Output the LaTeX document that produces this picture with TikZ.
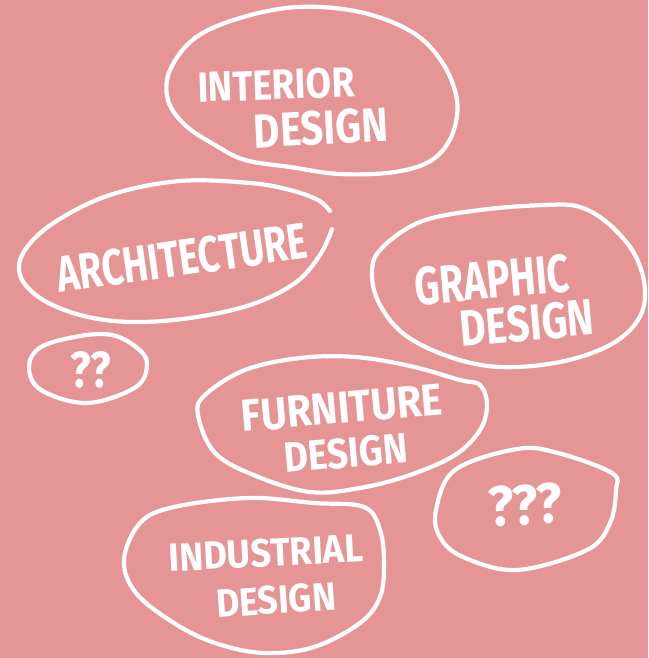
\documentclass[tikz,border=0pt]{standalone}
\usepackage{fontspec}
\usepackage{graphicx}
\setmainfont{Fira Sans}
\definecolor{bgpink}{RGB}{229,149,150}
% word squeezed into a box of given width and height (pt)
\newcommand\fitword[3]{\resizebox{#1pt}{#2pt}{#3}}
\tikzset{
  blob/.style={draw=white, line width=4.2pt, line cap=round, line join=round},
  lbl/.style={text=white, inner sep=0pt, anchor=center, font=\bfseries}
}
\begin{document}
\begin{tikzpicture}[x=1pt, y=-1pt]
  \fill[bgpink] (0,0) rectangle (648,658);
  \useasboundingbox (0,0) rectangle (648,658);

  % interior design
  \draw[blob] plot[smooth cycle, tension=0.6] coordinates {
    (195,38) (240,18) (298,7) (360,12) (412,32) (442,62) (457,100)
    (452,135) (432,160) (395,172) (340,174) (290,167) (245,160)
    (215,145) (185,125) (168,100) (170,70)};
  \node[lbl, rotate=2] (int1) at (276,85)  {\fitword{157}{30}{INTERIOR}};
  \node[lbl, rotate=3] (int2) at (321,128) {\fitword{134}{34}{DESIGN}};

  % architecture (open at the upper right)
  \draw[blob] plot[smooth, tension=0.6] coordinates {
    (330,211) (318,200) (290,190) (250,183) (180,181) (110,195) (55,222)
    (25,250) (20,275) (40,298) (80,315) (130,322) (190,318) (250,305)
    (295,283) (320,255) (332,229)};
  \node[lbl, rotate=8] (arch) at (182,258) {\fitword{252}{36}{ARCHITECTURE}};

  % graphic design
  \draw[blob] plot[smooth cycle, tension=0.6] coordinates {
    (380,250) (420,222) (480,210) (545,205) (580,207) (610,225) (635,255)
    (645,290) (638,320) (610,345) (560,362) (500,367) (450,357) (405,335)
    (380,305) (372,275)};
  \node[lbl, rotate=5] (gra1) at (492,280) {\fitword{155}{38}{GRAPHIC}};
  \node[lbl, rotate=5] (gra2) at (527,323) {\fitword{134}{36}{DESIGN}};

  % small question bubble
  \draw[blob] plot[smooth cycle, tension=0.6] coordinates {
    (29,367) (41,347) (80,336) (112,335) (136,347) (147,363) (136,387)
    (87,403) (41,390)};
  \node[lbl] (q2) at (91,370) {\fitword{40}{36}{??}};

  % furniture design
  \draw[blob] plot[smooth cycle, tension=0.6] coordinates {
    (205,395) (245,370) (300,358) (355,357) (410,366) (460,380) (480,385)
    (487,405) (480,430) (455,455) (410,475) (360,488) (310,492) (256,476)
    (215,453) (198,415)};
  \node[lbl, rotate=5] (fur1) at (342,408) {\fitword{202}{31}{FURNITURE}};
  \node[lbl, rotate=5] (fur2) at (346,453) {\fitword{124}{30}{DESIGN}};

  % larger question bubble
  \draw[blob] plot[smooth cycle, tension=0.6] coordinates {
    (436,510) (455,470) (517,449) (558,453) (612,473) (616,490) (610,523)
    (587,550) (517,570) (463,557) (440,537)};
  \node[lbl, rotate=3] (q3) at (525,505) {\fitword{74}{40}{???}};

  % industrial design
  \draw[blob] plot[smooth cycle, tension=0.6] coordinates {
    (124,560) (140,523) (174,507) (248,498) (314,503) (364,507) (380,530)
    (384,563) (380,597) (360,623) (314,647) (264,653) (215,643) (174,623)
    (136,593)};
  \node[lbl, rotate=3] (ind1) at (266,553) {\fitword{194}{28}{INDUSTRIAL}};
  \node[lbl, rotate=4] (ind2) at (276,600) {\fitword{120}{28}{DESIGN}};
\end{tikzpicture}
\end{document}
